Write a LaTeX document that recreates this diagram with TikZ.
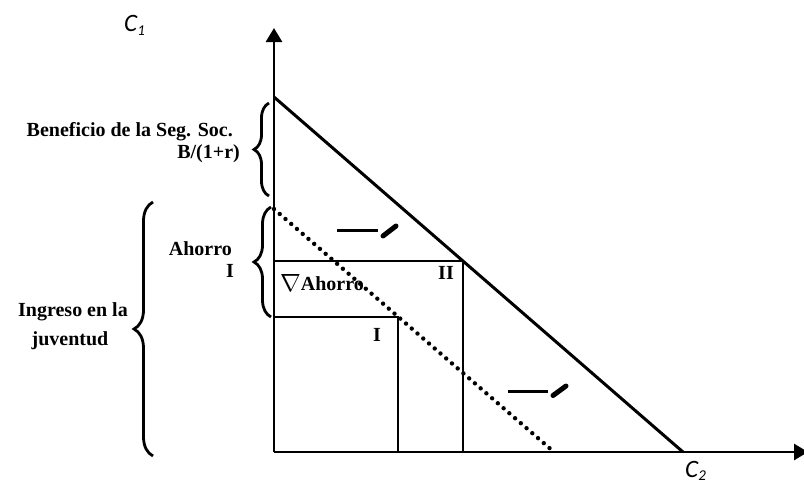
\documentclass[tikz,border=0pt]{standalone}
\usepackage{fontspec}
\setmainfont{Liberation Serif}
\newfontfamily\carl{Carlito}
\usetikzlibrary{arrows.meta,decorations.pathreplacing}
\tikzset{
  axis/.style={line width=2.8pt,-{Triangle[width=16pt,length=14pt]}},
  budget/.style={line width=3pt},
  dotline/.style={line width=4.4pt,line cap=round,dash pattern=on 0pt off 7.6pt},
  rectline/.style={line width=2.2pt},
  lab/.style={font=\bfseries\fontsize{20}{22}\selectfont,inner sep=0pt},
  axlab/.style={font=\carl\itshape\fontsize{25}{25}\selectfont,inner sep=0pt},
  brc/.style={line width=2.8pt,decorate,decoration={brace,amplitude=#1}},
  shiftmark/.style={line width=3.2pt},
  shifttip/.style={line width=5pt,line cap=round}
}
\begin{document}
\begin{tikzpicture}[x=1pt,y=-1pt]
\useasboundingbox (0,0) rectangle (804,483);
% key points
\coordinate (O) at (274,452);
\coordinate (Ytop) at (274,28);
\coordinate (Xend) at (808,452);
\coordinate (A) at (274,97);
\coordinate (B) at (683,452);
\coordinate (D1) at (274,209);
\coordinate (D2) at (554,452);
\coordinate (P2) at (463,261);
\coordinate (P2a) at (274,261);
\coordinate (P2b) at (463,452);
\coordinate (P1) at (398,317);
\coordinate (P1a) at (274,317);
\coordinate (P1b) at (398,452);
% rectangles
\draw[rectline] (P2a) -- (P2) -- (P2b);
\draw[rectline] (P1a) -- (P1) -- (P1b);
% lines
\draw[budget] (A) -- (B);
\draw[dotline] (D1) -- (D2);
% axes
\draw[axis] (O) -- (Ytop);
\draw[axis] (O) -- (Xend);
% braces
\draw[brc=15pt] (269,196) -- (269,103);
\draw[brc=17pt] (271,317) -- (271,207);
\draw[brc=19pt] (153,456) -- (153,202);
% shift marks
\coordinate (m1a) at (337,230.5);
\coordinate (m1b) at (378,230.5);
\coordinate (m1c) at (383,236);
\coordinate (m1d) at (396,226);
\draw[shiftmark] (m1a) -- (m1b);
\draw[shifttip] (m1c) -- (m1d);
\coordinate (m2a) at (508,391.5);
\coordinate (m2b) at (548,391.5);
\coordinate (m2c) at (553,395.5);
\coordinate (m2d) at (566,386);
\draw[shiftmark] (m2a) -- (m2b);
\draw[shifttip] (m2c) -- (m2d);
% labels
\node[axlab,anchor=base west] (c1) at (124,31) {C\raisebox{-4pt}{\fontsize{15}{15}\selectfont 1}};
\node[axlab,anchor=base west] (c2) at (685,477) {C\raisebox{-3pt}{\fontsize{15}{15}\selectfont 2}};
\node[lab,anchor=base east] (ben1) at (233,136) {Beneficio de la Seg. Soc.};
\node[lab,anchor=base east] (ben2) at (240,158) {B/(1+r)};
\node[lab,anchor=base east] (ah1) at (232,255) {Ahorro};
\node[lab,anchor=base east] (ah2) at (234,277.5) {I};
\node[lab,anchor=base] (ing1) at (73,316.5) {Ingreso en la};
\node[lab,anchor=base] (ing2) at (70,345) {juventud};
\node[lab,anchor=base west] (dah) at (280,290) {\raisebox{-1pt}{\fontsize{25}{25}\selectfont$\nabla$}Ahorro};
\node[lab,anchor=base] (lII) at (446,279) {II};
\node[lab,anchor=base] (lI) at (377,341) {I};
\end{tikzpicture}
\end{document}
